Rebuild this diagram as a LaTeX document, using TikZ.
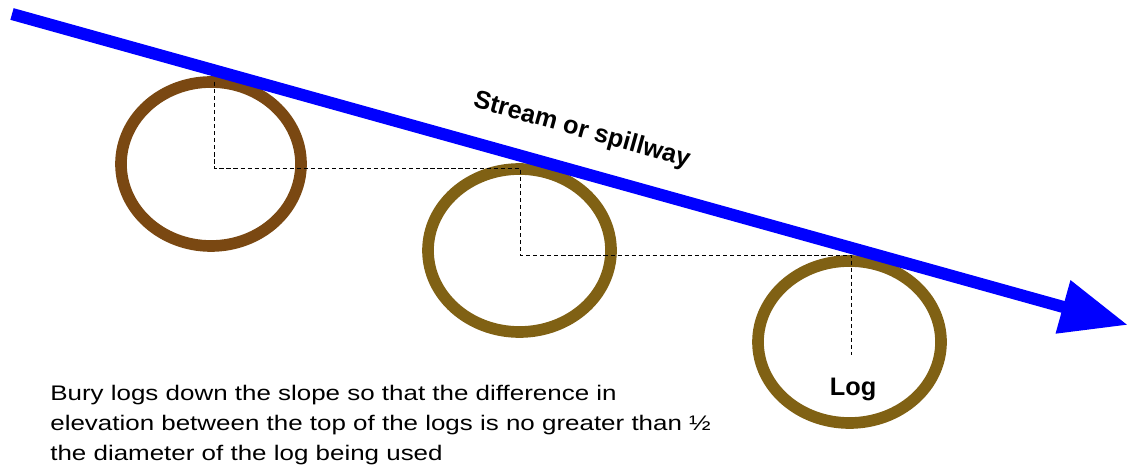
\documentclass[tikz,border=0pt]{standalone}
\usepackage{xcolor}
\usepackage{fontspec}
\setmainfont{Liberation Sans}
\usetikzlibrary{arrows.meta}

\definecolor{barkdark}{RGB}{122,72,18}
\definecolor{barkolive}{RGB}{128,97,20}

\begin{document}
\begin{tikzpicture}[
  x=0.025cm, y=-0.025cm,
  font=\fontsize{15}{21.3}\selectfont,
  ring/.style={line width=8.3pt},
  level/.style={line width=0.6pt, dash pattern=on 3pt off 2pt},
  flow/.style={line width=8.6pt, blue, -{Triangle[length=48pt, width=37pt]}},
  tag/.style={font=\fontsize{18}{20}\selectfont\bfseries, inner sep=0pt}
]
\useasboundingbox (0,0) rectangle (1128,471);

% Logs
\coordinate (log1) at (211,164);
\coordinate (log2) at (519.5,250.5);
\coordinate (log3) at (849.5,342);
\draw[ring, barkdark] (log1) ellipse [x radius=90, y radius=82];
\draw[ring, barkolive] (log2) ellipse [x radius=91.5, y radius=81.5];
\draw[ring, barkolive] (log3) ellipse [x radius=91.5, y radius=81];

% Elevation steps
\coordinate (top1) at (214,82);
\coordinate (mid1) at (214,168);
\coordinate (top2) at (520,168);
\coordinate (mid2) at (520,255);
\coordinate (top3) at (851,255);
\coordinate (low3) at (851,355);
\draw[level] (top1) -- (mid1) -- (top2) -- (mid2) -- (top3) -- (low3);

% Stream
\coordinate (src) at (12,14);
\coordinate (mouth) at (1128,325);
\draw[flow] (src) -- (mouth);
\node[tag, rotate=-15.6, anchor=base] (streamtag) at (580,137) {Stream or spillway};

% Labels
\node[tag, anchor=base] (logtag) at (853,395) {Log};
\node[anchor=north west, align=left, inner sep=0pt, xscale=1.23] (note) at (50,385)
  {Bury logs down the slope so that the difference in\\
   elevation between the top of the logs is no greater than ½\\
   the diameter of the log being used};
\end{tikzpicture}
\end{document}
